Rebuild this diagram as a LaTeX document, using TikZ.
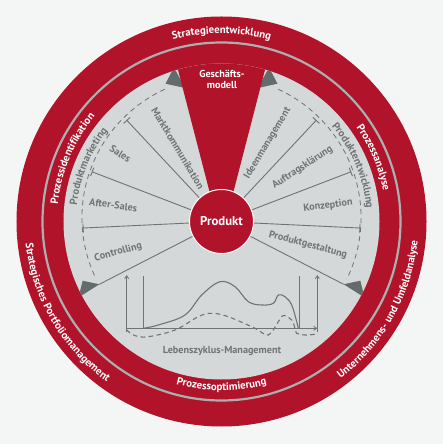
\documentclass[tikz,border=0pt]{standalone}
\usepackage{fontspec}
\setmainfont{PT Sans}
\usetikzlibrary{decorations.text, arrows.meta}
\definecolor{bg}{RGB}{244,245,245}
\definecolor{rred}{RGB}{177,19,43}
\definecolor{disk}{RGB}{213,216,217}
\definecolor{dgray}{RGB}{110,116,116}
\definecolor{trigray}{RGB}{100,107,107}
\definecolor{ringline}{RGB}{172,175,175}
\newcommand\ringfont{\fontsize{10.8}{10.8}\selectfont\bfseries}
\newcommand\arcgrayfont{\fontsize{10.6}{10.6}\selectfont\bfseries}
\newcommand\segfont{\fontsize{10.2}{10.2}\selectfont\bfseries}
\begin{document}
\begin{tikzpicture}[x=1bp,y=1bp,
  seglabel/.style={text=dgray, font=\segfont, inner sep=0pt},
  spoke/.style={draw=dgray, line width=0.9bp},
  arctext/.style n args={2}{decorate, decoration={text along path, text={|\ringfont|#2}, text align=center, text color=#1}},
  grayarctext/.style={decorate, decoration={text along path, text={|\arcgrayfont|#1}, text align=center, text color=dgray}},
  chartline/.style={draw=dgray, line width=0.8bp},
  chartarrow/.style={draw=dgray, line width=0.8bp, -{Straight Barb[length=3bp,width=4bp]}}
]
\useasboundingbox (-221.5,-222.5) rectangle (221.5,221.5);
\fill[bg] (-221.5,-222.5) rectangle (221.5,221.5);
% rings
\fill[rred] (0,0) circle[radius=205];
\draw[ringline, line width=2.2bp] (0,0) circle[radius=179];
\fill[disk] (0,0) circle[radius=158];
% triangles
\begin{scope}
\clip (0,0) circle[radius=158];
\fill[trigray] (-138.8,-59.2) -- (-122.2,-62.8) -- (-143,-76) -- cycle;
\fill[trigray] (138.8,-59.2) -- (122.2,-62.8) -- (143,-76) -- cycle;
\fill[trigray] (-47.5,154) -- (-56,137.8) -- (-36.5,133.5) -- cycle;
\fill[trigray] (47.5,154) -- (56,137.8) -- (36.5,133.5) -- cycle;
\end{scope}
\coordinate (c) at (0,0);
% spokes
\foreach \a in {133.1,159,182.7,46.9,21,-2.7}{
  \draw[spoke, rotate=\a] (c) -- (138.5,0) (138.5,-4.5) -- (138.5,4.5);
}
\draw[spoke] (c) -- (207.2:137.5);
\draw[spoke] (c) -- (-27.2:137.5);
% dashed arcs
\draw[dgray, line width=0.8bp, dash pattern=on 5bp off 4bp]
  plot[domain=203:112, samples=60, variable=\t] ({(138+(203-\t)/91*6)*cos(\t)},{(138+(203-\t)/91*6)*sin(\t)});
\draw[dgray, line width=0.8bp, dash pattern=on 5bp off 4bp]
  plot[domain=-23:68, samples=60, variable=\t] ({(138+(\t+23)/91*6)*cos(\t)},{(138+(\t+23)/91*6)*sin(\t)});
% wedge
\fill[rred] (0,-16.5) -- (106:158) arc[start angle=106, end angle=74, radius=158] -- cycle;
% centre circle
\node[circle, fill=rred, draw=white, line width=1bp, minimum size=64bp, inner sep=0pt,
      text=white, font=\fontsize{12.8}{12.8}\selectfont\bfseries] (produkt) at (c) {Produkt};
\node[text=white, font=\fontsize{10.2}{11.2}\selectfont\bfseries, align=center, inner sep=0pt] (gm) at (0.5,142.5) {Geschäfts-\\modell};
% ring texts
\path[arctext={white}{Strategieentwicklung}] (130:188) arc[start angle=130, end angle=50, radius=188];
\path[arctext={white}{Strategisches Portfoliomanagement}] (165.4:197) arc[start angle=165.4, end angle=255.4, radius=197];
\path[arctext={white}{Unternehmens- und Umfeldanalyse}] (285.8:197) arc[start angle=285.8, end angle=375.8, radius=197];
\path[arctext={white}{Prozessidentifikation}] (197.2:164.5) arc[start angle=197.2, end angle=117.2, radius=164.5];
\path[arctext={white}{Prozessanalyse}] (62.8:164.5) arc[start angle=62.8, end angle=-17.2, radius=164.5];
\path[arctext={white}{Prozessoptimierung}] (230:169) arc[start angle=230, end angle=310, radius=169];
\path[grayarctext={Produktmarketing}] (192.5:145.5) arc[start angle=192.5, end angle=122.5, radius=145.5];
\path[grayarctext={Produktentwicklung}] (58:145.5) arc[start angle=58, end angle=-12, radius=145.5];
% segment labels
\node[seglabel, rotate=-59] (mk) at (-43.7,73.2) {Marktkommunikation};
\node[seglabel, rotate=59] (im) at (46.2,78.2) {Ideenmanagement};
\node[seglabel, rotate=-33] (sa) at (-101.2,67.8) {Sales};
\node[seglabel, rotate=-8] (as) at (-108.2,16.5) {After-Sales};
\node[seglabel, rotate=15] (co) at (-103.2,-30.8) {Controlling};
\node[seglabel, rotate=33] (ak) at (81,54) {Auftragsklärung};
\node[seglabel, rotate=7] (kz) at (106.5,15.8) {Konzeption};
\node[seglabel, rotate=-15] (pg) at (86.5,-23.5) {Produktgestaltung};
\node[seglabel] (lz) at (0.5,-129.5) {Lebenszyklus-Management};
% life cycle chart (pixel coordinates)
\begin{scope}[shift={(-221.5,221.5)}, yscale=-1]
\draw[chartarrow] (126.7,331.7) -- (126.7,275);
\draw[chartarrow] (317.3,331.7) -- (317.3,275);
\draw[chartline] (143.3,328.3) -- (143.3,275.7);
\draw[chartline] (299.3,328.3) -- (299.3,275.7);
\draw[chartarrow] (126.7,328.3) -- (317.3,328.3);
\draw[dgray, line width=1.1bp] plot[smooth, tension=0.6] coordinates {
 (143.3,328.3) (158.3,325) (185,315) (201.7,295) (220,281.7) (235,286.7)
 (248.3,301.7) (261.7,305) (273.3,303.3) (278.3,295) (285,296.7) (291.7,305)
 (296.7,321.7) (298.3,328.3)};
\draw[dgray, line width=1.1bp, dash pattern=on 4.5bp off 3.5bp] plot[smooth, tension=0.6] coordinates {
 (126.7,330) (135,335.7) (148.3,336.7) (175,330) (198.3,316.7) (211.7,313.3)
 (228.3,316.7) (255,328.3) (268.3,335) (278.3,321.7) (281.7,316.7) (285,315.7)
 (291.7,320) (295,328.3) (296.7,333.3) (305,335) (315,334.3)};
\end{scope}
\end{tikzpicture}
\end{document}
